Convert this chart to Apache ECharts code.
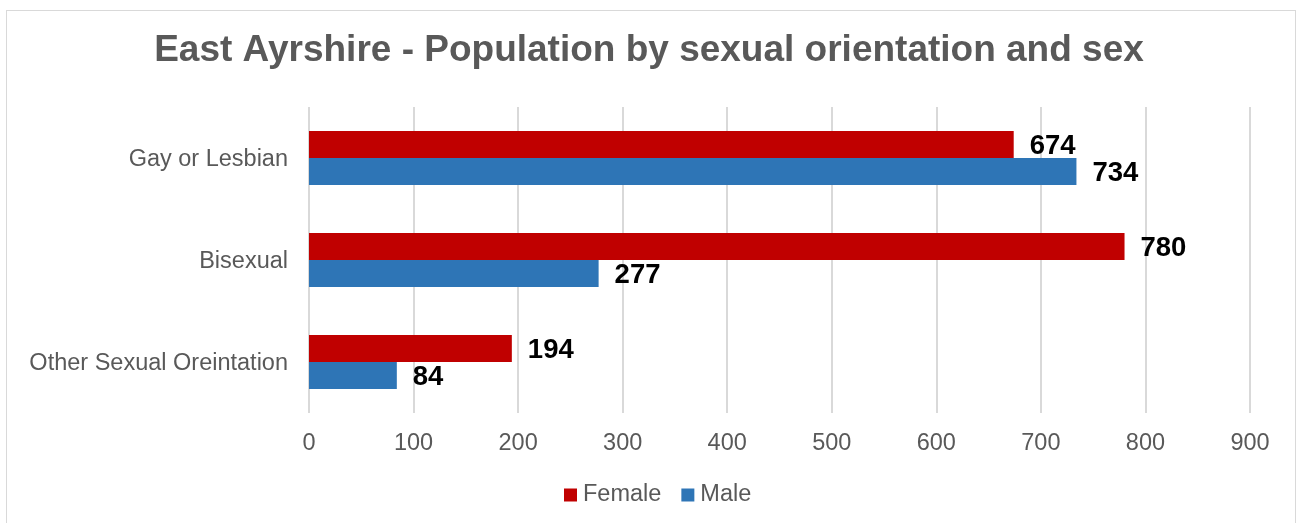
<!DOCTYPE html>
<html><head><meta charset="utf-8">
<script src="https://cdn.jsdelivr.net/npm/echarts@6/dist/echarts.min.js"></script>
<style>html,body{margin:0;padding:0;background:#fff}#c{width:1298px;height:523px}
#frame{position:absolute;left:6px;top:10px;width:1290px;height:530px;border:1px solid #d9d9d9;box-sizing:border-box;pointer-events:none}</style>
</head><body><div id="c"></div><div id="frame"></div>
<script>
const categories = ["Gay or Lesbian", "Bisexual", "Other Sexual Oreintation"];
const female = [674, 780, 194];
const male = [734, 277, 84];
const xTicks = [0, 100, 200, 300, 400, 500, 600, 700, 800, 900];
const FONT = "'Liberation Sans', Arial, sans-serif";
const chart = echarts.init(document.getElementById('c'));
const label = {show:true, position:'right', distance:16, offset:[0,2], color:'#000', fontWeight:'bold', fontSize:27.5, fontFamily:FONT};
chart.setOption({
  animation:false,
  title:{text:'East Ayrshire - Population by sexual orientation and sex', left:'center', top:27,
    textStyle:{fontFamily:FONT, fontSize:37, fontWeight:'bold', color:'#595959'}},
  grid:{left:309, right:48, top:107, bottom:110, containLabel:false},
  legend:{bottom:11, left:559, itemWidth:13, itemHeight:13, itemGap:20, icon:'rect',
    textStyle:{fontFamily:FONT, fontSize:23.5, color:'#595959', padding:[0,0,0,1]}, data:['Female','Male']},
  xAxis:{type:'value', min:xTicks[0], max:xTicks[xTicks.length-1], interval:100,
    axisLine:{show:false}, axisTick:{show:false},
    splitLine:{lineStyle:{color:'#d9d9d9', width:2}},
    axisLabel:{fontFamily:FONT, fontSize:23.5, color:'#595959', margin:19}},
  yAxis:{type:'category', data:categories, inverse:true,
    axisLine:{show:false}, axisTick:{show:false},
    axisLabel:{margin:21, formatter: v => '{a|' + v + '}',
      rich:{a:{fontFamily:FONT, fontSize:23.5, color:'#595959', padding:[4,0,0,0]}}}},
  series:[
    {name:'Female', type:'bar', data:female, itemStyle:{color:'#c00000'}, barGap:'0%', barCategoryGap:'47%', label:label},
    {name:'Male', type:'bar', data:male, itemStyle:{color:'#2e75b6'}, barGap:'0%', barCategoryGap:'47%', label:label}
  ]
});
</script></body></html>
